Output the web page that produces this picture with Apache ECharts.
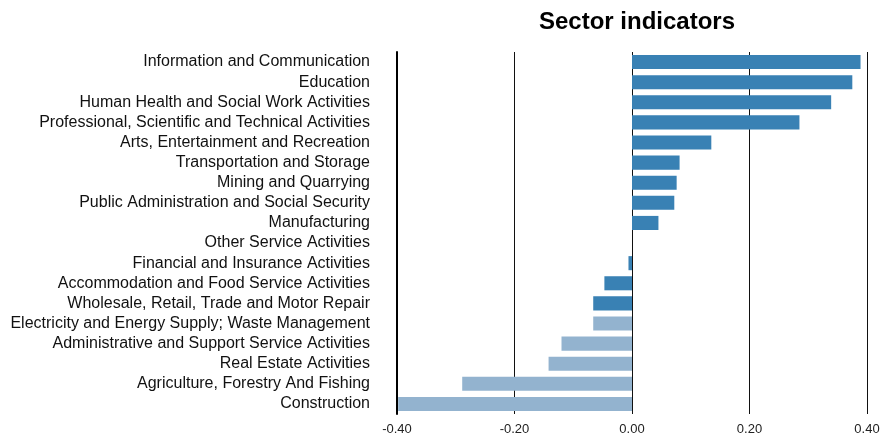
<!DOCTYPE html>
<html>
<head>
<meta charset="utf-8">
<style>
  html, body { margin: 0; padding: 0; background: #fff; }
  #chart { width: 894px; height: 434px; }
</style>
<script src="https://cdn.jsdelivr.net/npm/echarts@6/dist/echarts.min.js"></script>
</head>
<body>
<div id="chart"></div>
<script>
// Sector names, top to bottom
const sectors = [
  'Information and Communication',
  'Education',
  'Human Health and Social Work Activities',
  'Professional, Scientific and Technical Activities',
  'Arts, Entertainment and Recreation',
  'Transportation and Storage',
  'Mining and Quarrying',
  'Public Administration and Social Security',
  'Manufacturing',
  'Other Service Activities',
  'Financial and Insurance Activities',
  'Accommodation and Food Service Activities',
  'Wholesale, Retail, Trade and Motor Repair',
  'Electricity and Energy Supply; Waste Management',
  'Administrative and Support Service Activities',
  'Real Estate Activities',
  'Agriculture, Forestry And Fishing',
  'Construction'
];

// Indicator value per sector
const indicator = [
  0.389, 0.375, 0.339, 0.285, 0.135, 0.081, 0.076, 0.072, 0.045,
  0.0, -0.006, -0.047, -0.066, -0.066, -0.120, -0.142, -0.289, -0.398
];

// Sectors in the primary group (1) vs. secondary group (0)
const primaryGroup = [1, 1, 1, 1, 1, 1, 1, 1, 1, 1, 1, 1, 1, 0, 0, 0, 0, 0];

// Value axis ticks
const xTicks = [-0.4, -0.2, 0, 0.2, 0.4];

const PRIMARY = '#3981b4';
const SECONDARY = '#93b3cf';
const FONT = '"Liberation Sans", Arial, Helvetica, sans-serif';

const chart = echarts.init(document.getElementById('chart'), null, { renderer: 'canvas' });

chart.setOption({
  animation: false,
  title: {
    text: 'Sector indicators',
    left: 632,
    top: 5,
    textAlign: 'center',
    textStyle: { fontFamily: FONT, fontSize: 24, fontWeight: 'bold', color: '#000' }
  },
  grid: {
    left: 397, right: 27, top: 52, bottom: 20,
    containLabel: false,
    outerBoundsMode: 'none'
  },
  xAxis: {
    type: 'value',
    min: xTicks[0],
    max: xTicks[xTicks.length - 1],
    interval: 0.2,
    axisLine: { show: false },
    axisTick: { show: false },
    splitLine: { show: true, lineStyle: { color: '#111', width: 1 } },
    axisLabel: {
      margin: 9,
      color: '#222',
      fontFamily: FONT,
      fontSize: 13,
      formatter: v => v.toFixed(2)
    }
  },
  yAxis: {
    type: 'category',
    data: sectors,
    inverse: true,
    axisLine: { show: true, onZero: false, lineStyle: { color: '#000', width: 2 } },
    axisTick: { show: false },
    axisLabel: {
      interval: 0,
      hideOverlap: false,
      margin: 27,
      color: '#111',
      fontFamily: FONT,
      fontSize: 16
    }
  },
  series: [{
    type: 'bar',
    barCategoryGap: '30%',
    data: indicator.map((v, i) => ({
      value: v,
      itemStyle: { color: primaryGroup[i] ? PRIMARY : SECONDARY }
    }))
  }]
});
</script>
</body>
</html>
